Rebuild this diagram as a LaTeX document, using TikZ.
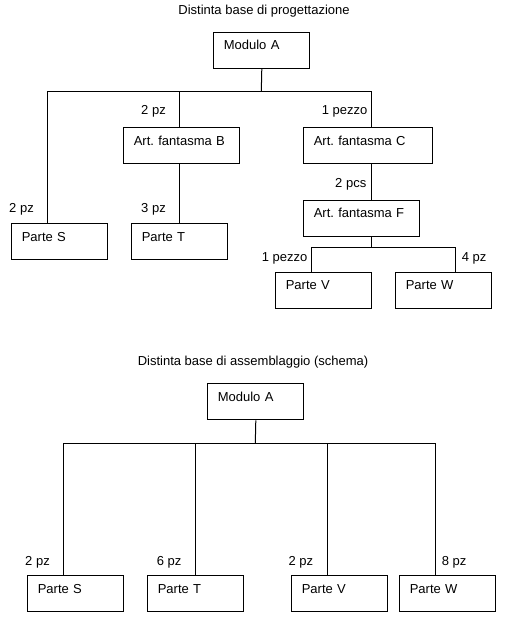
\documentclass[tikz,border=0pt]{standalone}
\usepackage{fontspec}
\setmainfont{Liberation Sans}
\frenchspacing
\begin{document}
\begin{tikzpicture}[x=1pt,y=-1pt,
  every node/.style={font=\fontsize{13}{15}\selectfont},
  bx/.style={draw, line width=1pt, rectangle, anchor=north west, inner xsep=10pt, inner ysep=0pt,
    text height=17.7pt, text depth=18.3pt, align=left},
  lbl/.style={anchor=base west, inner sep=0pt},
  ttl/.style={anchor=base, inner sep=0pt},
  ln/.style={line width=1pt}]
\useasboundingbox[fill=white] (0,0) rectangle (512,617);

% ---------- top tree ----------
\node[ttl] (t1) at (264,15) {Distinta base di progettazione};
\node[bx, text width=76pt] (modA1) at (213.3,31.7) {Modulo A};
\node[bx, text width=96pt] (artB) at (123.3,127) {Art. fantasma B};
\node[bx, text width=109pt] (artC) at (303.3,127) {Art. fantasma C};
\node[bx, text width=95.7pt] (artF) at (303.3,199.7) {Art. fantasma F};
\node[bx, text width=76pt] (partS1) at (11.3,223.3) {Parte S};
\node[bx, text width=76pt] (partT1) at (131.3,223.3) {Parte T};
\node[bx, text width=76pt] (partV1) at (275.3,271.7) {Parte V};
\node[bx, text width=76pt] (partW1) at (395.3,271.7) {Parte W};

\coordinate (j0) at (261.3,91.3);
\coordinate (bL) at (47.7,91.3);
\coordinate (bB) at (179.3,91.3);
\coordinate (bR) at (371.3,91.3);
\coordinate (fj) at (371.3,247.7);
\coordinate (fL) at (311.3,247.7);
\coordinate (fR) at (455.3,247.7);

\draw[ln] (modA1.south) -- (j0);
\draw[ln] (bL |- partS1.north) -- (bL) -- (bR) -- (bR |- artC.north);
\draw[ln] (bB) -- (bB |- artB.north);
\draw[ln] (partT1.north |- artB.south) -- (partT1.north);
\draw[ln] (bR |- artC.south) -- (bR |- artF.north);
\draw[ln] (bR |- artF.south) -- (fj);
\draw[ln] (fL |- partV1.north) -- (fL) -- (fR) -- (fR |- partW1.north);

\node[lbl] (l1) at (9,212.7) {2 pz};
\node[lbl] (l2) at (141,115) {2 pz};
\node[lbl] (l3) at (321.7,115) {1 pezzo};
\node[lbl] (l4) at (141,212.7) {3 pz};
\node[lbl] (l5) at (335,188) {2 pcs};
\node[lbl] (l6) at (261.7,261.7) {1 pezzo};
\node[lbl] (l7) at (461.7,261.7) {4 pz};

% ---------- bottom tree ----------
\node[ttl] (t2) at (253,365.7) {Distinta base di assemblaggio (schema)};
\node[bx, text width=76pt] (modA2) at (207.3,383.3) {Modulo A};
\node[bx, text width=76pt] (partS2) at (27.3,575.3) {Parte S};
\node[bx, text width=76pt] (partT2) at (147.3,575.3) {Parte T};
\node[bx, text width=76pt] (partV2) at (291.3,575.3) {Parte V};
\node[bx, text width=76pt] (partW2) at (399.3,575.3) {Parte W};

\coordinate (k0) at (255.3,443.3);
\coordinate (k1) at (63.3,443.3);
\coordinate (k2) at (195.3,443.3);
\coordinate (k3) at (327.3,443.3);
\coordinate (k4) at (435.3,443.3);

\draw[ln] (modA2.south) -- (k0);
\draw[ln] (k1 |- partS2.north) -- (k1) -- (k4) -- (k4 |- partW2.north);
\draw[ln] (k2) -- (k2 |- partT2.north);
\draw[ln] (k3) -- (k3 |- partV2.north);

\node[lbl] (m1) at (25,565) {2 pz};
\node[lbl] (m2) at (156.7,565) {6 pz};
\node[lbl] (m3) at (288.3,565) {2 pz};
\node[lbl] (m4) at (441.7,565) {8 pz};
\end{tikzpicture}
\end{document}
